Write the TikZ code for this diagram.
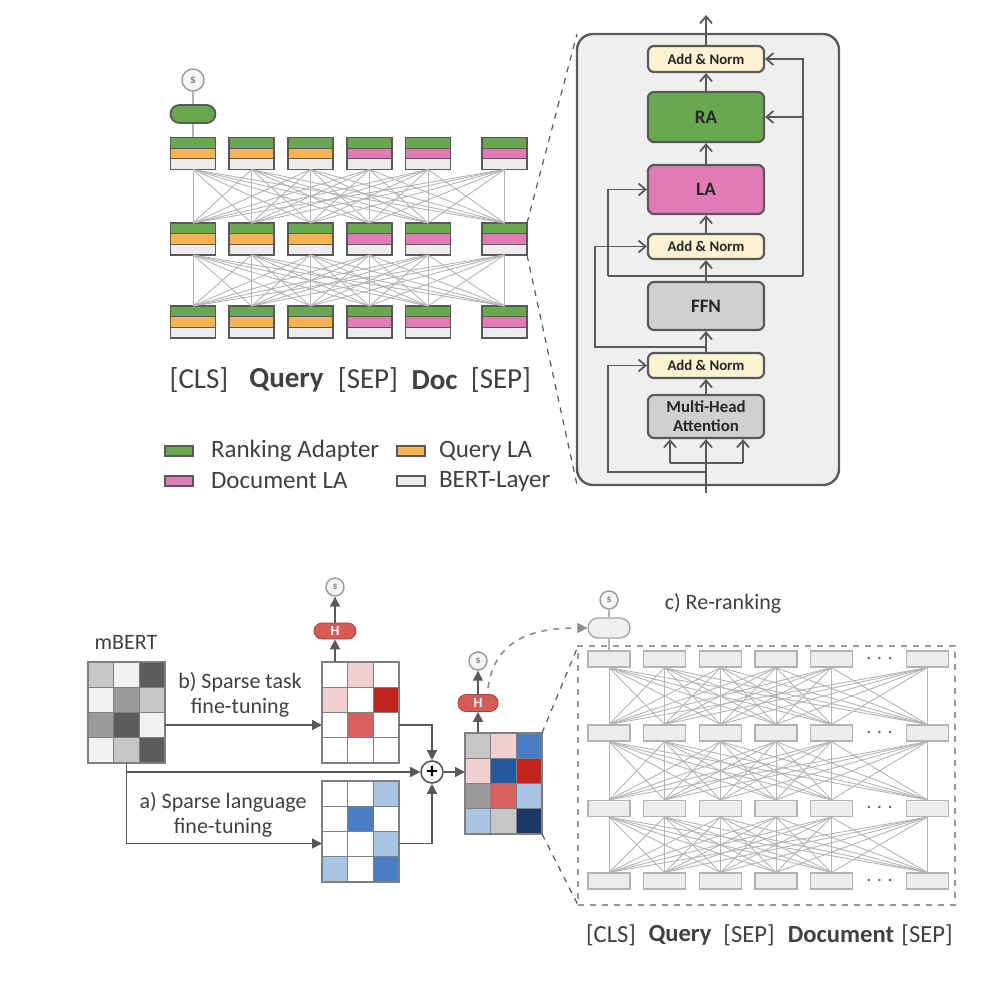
\documentclass[tikz,border=0pt]{standalone}
\usepackage{fontspec}
\setmainfont{Carlito}
\usepackage{tikz}
\usetikzlibrary{arrows.meta,positioning,calc}
\definecolor{bdr}{HTML}{595959}
\definecolor{txtgray}{HTML}{404040}
\definecolor{linegray}{HTML}{B4B4B4}
\definecolor{gridgray}{HTML}{7F7F7F}
\definecolor{ragreen}{HTML}{6AA84F}
\definecolor{qla}{HTML}{F6B352}
\definecolor{dla}{HTML}{E07BB5}
\definecolor{bertgray}{HTML}{ECECEC}
\definecolor{cream}{HTML}{FDF2D2}
\definecolor{ffngray}{HTML}{D0D0D0}
\definecolor{blkgray}{HTML}{EFEFEF}
\definecolor{hred}{HTML}{D65A56}
\definecolor{gW}{HTML}{F2F2F2}
\definecolor{gL}{HTML}{C6C6C6}
\definecolor{gM}{HTML}{9A9A9A}
\definecolor{gD}{HTML}{5C5C5C}
\definecolor{rL}{HTML}{F2CFD1}
\definecolor{rM}{HTML}{D9605E}
\definecolor{rD}{HTML}{C0261E}
\definecolor{bL}{HTML}{A9C5E6}
\definecolor{bM}{HTML}{4A7EC4}
\definecolor{bD}{HTML}{27579C}
\definecolor{bN}{HTML}{1B3866}

\tikzstyle{tok}=[draw=bdr,line width=0.9pt,minimum width=22.5pt,minimum height=16pt,inner sep=0pt,outer sep=0pt]
\tikzstyle{conn}=[draw=linegray,line width=0.45pt]
\tikzstyle{lbl}=[font=\fontsize{14.5}{16}\selectfont,text=txtgray,inner sep=0pt]
\tikzstyle{blbl}=[lbl,font=\bfseries\fontsize{14.5}{16}\selectfont]
\tikzstyle{leg}=[font=\fontsize{12.5}{14}\selectfont,text=txtgray,inner sep=0pt]
\tikzstyle{swatch}=[draw=bdr,line width=0.6pt,minimum width=14pt,minimum height=5pt,inner sep=0pt]
\tikzstyle{blkbox}=[draw=bdr,line width=1.1pt,rounded corners=3pt,minimum width=58pt,inner sep=0pt,
  text=black!85,font=\bfseries\fontsize{9.5}{10}\selectfont,align=center]
\tikzstyle{anbox}=[blkbox,fill=cream,minimum height=12.5pt,font=\bfseries\fontsize{7.4}{8}\selectfont]
\tikzstyle{arr}=[draw=bdr,line width=0.9pt,-{Straight Barb[length=3.5pt,width=6pt]}]
\tikzstyle{barr}=[draw=bdr,line width=0.8pt,-{Triangle[length=5pt,width=5pt]}]
\tikzstyle{scirc}=[circle,draw=gray!80,fill=gray!8,line width=0.7pt,minimum size=9pt,inner sep=0pt,
  text=gray,font=\bfseries\fontsize{5.5}{5.5}\selectfont]
\tikzstyle{hpill}=[draw=hred!75!black,fill=hred,rounded corners=4pt,minimum width=21pt,minimum height=8pt,
  inner sep=0pt,text=white,font=\bfseries\fontsize{7}{8}\selectfont]
\tikzstyle{mat}=[minimum width=38.5pt,minimum height=50.5pt,inner sep=0pt,outer sep=0pt]
\tikzstyle{cell}=[draw=gridgray,line width=0.6pt,minimum width=12.83pt,minimum height=12.62pt,inner sep=0pt]
\tikzstyle{rtok}=[draw=gray!60,fill=gray!15,line width=0.6pt,minimum width=21pt,minimum height=8pt,inner sep=0pt]
\tikzstyle{zoomline}=[draw=bdr,dashed,line width=0.6pt]
\tikzstyle{note}=[font=\fontsize{11}{12.5}\selectfont,text=txtgray,align=center]

\newcommand{\cellgrid}[4]{%
  \node[mat] (#1) at (#2,#3) {};
  \foreach \col [count=\k from 0] in {#4} {
    \pgfmathtruncatemacro{\rr}{div(\k,3)}
    \pgfmathtruncatemacro{\cc}{mod(\k,3)}
    \node[cell,fill=\col] at ($(#1.north west)+(\cc*25.67+12.83,\rr*25.25+12.62)$) {};
  }
  \draw[gridgray,line width=0.8pt] (#1.north west) rectangle (#1.south east);
}

\begin{document}
\begin{tikzpicture}[x=0.5pt,y=-0.5pt]
  \useasboundingbox (0,0) rectangle (998,1000);

  % top left: adapter stack
  \foreach \c/\x/\m in {1/193/qla,2/251.5/qla,3/310.5/qla,4/369.5/dla,5/428/dla,6/504.5/dla}
    \foreach \r/\y in {1/153.5,2/239,3/322} {
      \node[tok,fill=bertgray] (t\r\c) at (\x,\y) {};
      \fill[ragreen] (t\r\c.north west) rectangle ([yshift=2.67pt]t\r\c.east);
      \fill[\m] ([yshift=2.67pt]t\r\c.west) rectangle ([yshift=-2.67pt]t\r\c.east);
      \draw[bdr,line width=0.6pt] ([yshift=2.67pt]t\r\c.west) -- ([yshift=2.67pt]t\r\c.east)
        ([yshift=-2.67pt]t\r\c.west) -- ([yshift=-2.67pt]t\r\c.east);
      \draw[bdr,line width=0.9pt] (t\r\c.north west) rectangle (t\r\c.south east);
    }
  \foreach \r/\n in {1/2,2/3}
    \foreach \i in {1,...,6}
      \foreach \j in {1,...,6}
        \draw[conn] (t\r\i.south) -- (t\n\j.north);
  \node[scirc,minimum size=11pt,font=\bfseries\fontsize{6.5}{6.5}\selectfont] (s1) at (193,80) {s};
  \node[draw=bdr,fill=ragreen,line width=0.9pt,rounded corners=4.5pt,minimum width=22.5pt,minimum height=9pt,inner sep=0pt] (p1) at (193,114) {};
  \draw[conn,line width=0.7pt] (s1) -- (p1);
  \draw[conn,line width=0.7pt] (p1) -- (t11);

  \node[lbl] (w1) at (199,380) {[CLS]};
  \node[blbl] (w2) at (286.5,380) {Query};
  \node[lbl] (w3) at (368,380) {[SEP]};
  \node[blbl] (w4) at (434.5,380) {Doc};
  \node[lbl] (w5) at (501,380) {[SEP]};

  % legend
  \node[swatch,fill=ragreen] (lg1) at (179,451) {};
  \node[leg,right=8.5pt of lg1] {Ranking Adapter};
  \node[swatch,fill=dla] (lg2) at (179,481) {};
  \node[leg,right=8.5pt of lg2] {Document LA};
  \node[swatch,fill=qla] (lg3) at (411,451) {};
  \node[leg,right=6.5pt of lg3] {Query LA};
  \node[swatch,fill=bertgray] (lg4) at (411,481) {};
  \node[leg,right=6.5pt of lg4] {BERT-Layer};

  % top right: layer detail
  \node[draw=bdr,fill=blkgray,line width=1.2pt,rounded corners=8pt,minimum width=131pt,minimum height=225.5pt,inner sep=0pt,outer sep=0pt] (blk) at (708,259.5) {};
  \draw[zoomline] (t26.north east) -- (blk.north west);
  \draw[zoomline] (t26.south east) -- (blk.south west);

  \node[blkbox,fill=ffngray,minimum height=21.5pt,font=\bfseries\fontsize{8.4}{9}\selectfont] (mha) at (706,416.5) {Multi-Head\\[0.5pt]Attention};
  \node[anbox] (an1) at (706,365.5) {Add \& Norm};
  \node[blkbox,fill=ffngray,minimum height=24pt] (ffn) at (706,306) {FFN};
  \node[anbox] (an2) at (706,246.5) {Add \& Norm};
  \node[blkbox,fill=dla,minimum height=24.5pt] (la) at (706,189.5) {LA};
  \node[blkbox,fill=ragreen,minimum height=25pt] (ra) at (706,117) {RA};
  \node[anbox,minimum height=13pt] (an3) at (706,59) {Add \& Norm};

  \coordinate (in) at (706,493);
  \coordinate (out) at (706,15);
  \coordinate (q1) at (670,463);
  \coordinate (q2) at (706,463);
  \coordinate (q3) at (743,463);
  \coordinate (r1) at (706,472);
  \coordinate (r2) at (706,347);
  \coordinate (r3) at (608,276);
  \coordinate (r4) at (803,276);

  \draw[arr] (in) -- (mha.south);
  \draw[arr] (mha) -- (an1);
  \draw[arr] (an1) -- (ffn);
  \draw[arr] (ffn) -- (an2);
  \draw[arr] (an2) -- (la);
  \draw[arr] (la) -- (ra);
  \draw[arr] (ra) -- (an3);
  \draw[arr] (an3.north) -- (out);
  \draw[draw=bdr,line width=0.9pt] (q1) -- (q3);
  \draw[arr] (q1) -- (q1 |- mha.south);
  \draw[arr] (q3) -- (q3 |- mha.south);
  \draw[arr] (r1) -- (608,472) |- (an1.west);
  \draw[arr] (r2) -- (595,347) |- (an2.west);
  \draw[arr] (r3) |- (la.west);
  \draw[draw=bdr,line width=0.9pt] (r3) -- (r4);
  \draw[arr] (r4) |- (an3.east);
  \draw[arr] (r4 |- ra.east) -- (ra.east);

  % bottom left: sparse fine-tuning
  \node[note] (mb) at (126,642) {mBERT};
  \cellgrid{mbert}{126.5}{712.5}{gL,gW,gD,gW,gM,gL,gM,gD,gW,gW,gL,gD}
  \cellgrid{task}{360.5}{712.5}{white,rL,white,rL,white,rD,white,rM,white,white,white,white}
  \cellgrid{lang}{360.5}{831.5}{white,white,bL,white,bM,white,white,white,bL,bL,white,bM}
  \cellgrid{res}{503.5}{783.5}{gL,rL,bM,rL,bD,rD,gM,rM,bL,bL,gL,bN}

  \node[circle,draw=bdr,fill=white,line width=0.8pt,minimum size=11pt,inner sep=0pt,font=\bfseries\fontsize{11}{11}\selectfont] (plus) at (432,772) {+};
  \node[hpill] (hT) at (335,631) {H};
  \node[scirc] (sT) at (335,587) {s};
  \node[hpill,minimum width=20pt,minimum height=8.5pt] (hR) at (478,703) {H};
  \node[scirc] (sR) at (478,661) {s};
  \draw[barr] (hT |- task.north) -- (hT.south);
  \draw[barr] (hT.north) -- (sT.south);
  \draw[barr] (hR |- res.north) -- (hR.south);
  \draw[barr] (hR.north) -- (sR.south);

  \coordinate (b0) at (165,725);
  \coordinate (a0) at (126.5,843.5);
  \draw[barr] (b0) -- (b0 -| task.west);
  \draw[barr] (mbert.south) |- (a0 -| lang.west);
  \draw[barr] (mbert.south |- plus) -- (plus.west);
  \draw[barr] (b0 -| task.east) -| (plus.north);
  \draw[barr] (a0 -| lang.east) -| (plus.south);
  \draw[barr] (plus.east) -- (res.west |- plus);

  \node[note] (lb) at (240,695) {b) Sparse task\\fine-tuning};
  \node[note] (la2) at (223,815) {a) Sparse language\\fine-tuning};

  % bottom right: re-ranking
  \node[draw=gray!80,dashed,line width=0.7pt,minimum width=188.5pt,minimum height=129.5pt,inner sep=0pt,outer sep=0pt] (rr) at (766.5,775.5) {};
  \foreach \c/\x in {1/609,2/664.5,3/720.5,4/776,5/831.5,6/927.5}
    \foreach \r/\y in {1/659,2/733,3/808.5,4/881}
      \node[rtok] (b\r\c) at (\x,\y) {};
  \foreach \r in {1,...,4}
    \node[text=gray!80!black,font=\fontsize{12}{12}\selectfont] at ($(b\r5)!0.5!(b\r6)$) {$\cdots$};
  \foreach \r/\n in {1/2,2/3,3/4}
    \foreach \i in {1,...,6}
      \foreach \j in {1,...,6}
        \draw[conn] (b\r\i.south) -- (b\n\j.north);
  \node[scirc] (sB) at (609,600) {s};
  \node[draw=gray!70,fill=gray!12,line width=0.7pt,rounded corners=5pt,minimum width=21pt,minimum height=10pt,inner sep=0pt] (pB) at (609,628) {};
  \draw[conn,line width=0.7pt] (sB) -- (pB);
  \draw[conn,line width=0.7pt] (pB) -- (b11);
  \coordinate (c0) at (488,688);
  \draw[draw=gray!90,dashed,line width=0.8pt,-{Triangle[length=5pt,width=5pt]}] (c0) .. controls (495,635) and (540,628) .. (pB.west);
  \draw[zoomline] (res.north east) -- (rr.north west);
  \draw[zoomline] (res.south east) -- (rr.south west);
  \node[note] (rk) at (723,603) {c) Re-ranking};

  \node[lbl,font=\fontsize{12.3}{14}\selectfont] (v1) at (611,935) {[CLS]};
  \node[blbl,font=\bfseries\fontsize{12.3}{14}\selectfont] (v2) at (680,935) {Query};
  \node[lbl,font=\fontsize{12.3}{14}\selectfont] (v3) at (749,935) {[SEP]};
  \node[blbl,font=\bfseries\fontsize{12.3}{14}\selectfont] (v4) at (841,935) {Document};
  \node[lbl,font=\fontsize{12.3}{14}\selectfont] (v5) at (927,935) {[SEP]};
\end{tikzpicture}
\end{document}
